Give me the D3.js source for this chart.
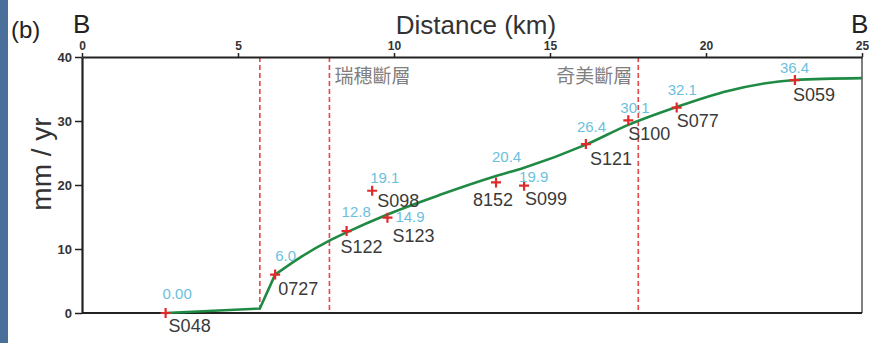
<!DOCTYPE html>
<html>
<head>
<meta charset="utf-8">
<script src="https://cdn.jsdelivr.net/npm/d3@7"></script>
<style>
  html, body { margin: 0; padding: 0; background: #fff; }
  svg { display: block; font-family: Arial, "Liberation Sans", sans-serif; }
</style>
</head>
<body>
<svg id="chart" width="869" height="343"></svg>
<script>
// GPS stations along profile B–B'
const stations   = ["S048", "0727", "S122", "S098", "S123", "8152", "S099", "S121", "S100", "S077", "S059"];
const stationKm  = [2.68, 6.19, 8.48, 9.3, 9.79, 13.27, 14.17, 16.15, 17.51, 19.06, 22.85];
const stationVel = [0.00, 6.0, 12.8, 19.1, 14.9, 20.4, 19.9, 26.4, 30.1, 32.1, 36.4];
const velLabels  = ["0.00", "6.0", "12.8", "19.1", "14.9", "20.4", "19.9", "26.4", "30.1", "32.1", "36.4"];

// Model velocity profile: straight segments west of the fault zone, smooth curve east of it
const modelKmWest  = [2.68, 5.7, 6.19];
const modelVelWest = [0.0, 0.7, 6.0];
const modelKmEast  = [6.19, 7.0, 7.93, 8.48, 9.79, 11.5, 13.27, 14.17, 16.15, 17.51, 19.06, 20.7, 22.85, 25];
const modelVelEast = [6.0, 8.7, 11.3, 12.6, 15.4, 18.5, 21.4, 22.7, 26.3, 29.4, 32.2, 34.7, 36.4, 36.7];

// Fault traces
const faultKm = [5.7, 7.93, 17.83];
const faultNames = ["瑞穗斷層", "奇美斷層"];

// Axis ticks
const xTicks = [0, 5, 10, 15, 20, 25];
const yTicks = [0, 10, 20, 30, 40];

// Label placement (pixel offsets from each marker)
const labelPos = {
  "S048": { v: [-3, -14], n: [3, 19] },
  "0727": { v: [0, -14],  n: [3, 20] },
  "S122": { v: [-5, -14], n: [-6, 22] },
  "S098": { v: [-2, -8],  n: [5, 16] },
  "S123": { v: [8, 4],    n: [5, 24] },
  "8152": { v: [-4, -20], n: [-23, 24] },
  "S099": { v: [-5, -4],  n: [1, 19] },
  "S121": { v: [-9, -12], n: [4, 21] },
  "S100": { v: [-8, -7],  n: [0, 20] },
  "S077": { v: [-9, -13], n: [0, 19] },
  "S059": { v: [-15, -7], n: [-2, 21] }
};

const svg = d3.select("#chart");

// slide strip on the left edge
svg.append("rect").attr("x", 0).attr("y", 0).attr("width", 8).attr("height", 343).attr("fill", "#4a6f9b");

const x = d3.scaleLinear().domain([0, 25]).range([82, 862]);
const y = d3.scaleLinear().domain([0, 40]).range([313, 57]);

// frame: right side lighter
svg.append("line").attr("x1", x(25)).attr("x2", x(25)).attr("y1", y(40)).attr("y2", y(0))
  .attr("stroke", "#555").attr("stroke-width", 1.5);
svg.append("line").attr("x1", x(0)).attr("x2", x(25)).attr("y1", y(0)).attr("y2", y(0))
  .attr("stroke", "#222").attr("stroke-width", 2.2);

// fault lines
svg.append("g").selectAll("line").data(faultKm).join("line")
  .attr("x1", d => x(d)).attr("x2", d => x(d))
  .attr("y1", y(40)).attr("y2", y(0))
  .attr("stroke", "#e0484a").attr("stroke-width", 1.6)
  .attr("stroke-dasharray", "5,3");

svg.append("text").attr("x", x(faultKm[1]) + 5).attr("y", 83)
  .attr("font-family", "'Noto Sans CJK TC', 'Noto Sans CJK SC', sans-serif")
  .attr("font-size", 19).attr("fill", "#808080").text(faultNames[0]);
svg.append("text").attr("x", x(faultKm[2]) - 6).attr("y", 83).attr("text-anchor", "end")
  .attr("font-family", "'Noto Sans CJK TC', 'Noto Sans CJK SC', sans-serif")
  .attr("font-size", 19).attr("fill", "#808080").text(faultNames[1]);

// top axis
const topAxis = svg.append("g").attr("transform", `translate(0,${y(40)})`)
  .call(d3.axisTop(x).tickValues(xTicks).tickSize(4).tickSizeOuter(0));
topAxis.select(".domain").attr("stroke", "#222").attr("stroke-width", 2.2);
topAxis.selectAll(".tick line").attr("stroke", "#222").attr("stroke-width", 1.5);
topAxis.selectAll(".tick text").attr("font-size", 12).attr("font-weight", "bold")
  .attr("fill", "#333").attr("y", -7).attr("font-family", "Arial, sans-serif");

// left axis
const leftAxis = svg.append("g").attr("transform", `translate(${x(0)},0)`)
  .call(d3.axisLeft(y).tickValues(yTicks).tickSize(7).tickSizeOuter(0));
leftAxis.select(".domain").attr("stroke", "#222").attr("stroke-width", 2.2);
leftAxis.selectAll(".tick line").attr("stroke", "#222").attr("stroke-width", 1.5);
leftAxis.selectAll(".tick text").attr("font-size", 13).attr("font-weight", "bold")
  .attr("fill", "#333").attr("x", -10).attr("font-family", "Arial, sans-serif");

// titles
svg.append("text").attr("x", 476).attr("y", 34).attr("text-anchor", "middle")
  .attr("font-size", 26).attr("fill", "#333").text("Distance (km)");
svg.append("text").attr("x", 73).attr("y", 33).attr("font-size", 26).attr("fill", "#222").text("B");
svg.append("text").attr("x", 851).attr("y", 33).attr("font-size", 26).attr("fill", "#222").text("B");
svg.append("text").attr("x", 11).attr("y", 38).attr("font-size", 24).attr("fill", "#222").text("(b)");
svg.append("text").attr("transform", "translate(51,164) rotate(-90)").attr("text-anchor", "middle")
  .attr("font-size", 28).attr("fill", "#333").text("mm / yr");

// model curve
const west = modelKmWest.map((d, i) => [d, modelVelWest[i]]);
const east = modelKmEast.map((d, i) => [d, modelVelEast[i]]);
const curveStyle = p => p.attr("fill", "none").attr("stroke", "#1f8a44")
  .attr("stroke-width", 2.6).attr("stroke-linejoin", "round");
svg.append("path").datum(west).call(curveStyle)
  .attr("d", d3.line().x(d => x(d[0])).y(d => y(d[1])));
svg.append("path").datum(east).call(curveStyle)
  .attr("d", d3.line().x(d => x(d[0])).y(d => y(d[1])).curve(d3.curveMonotoneX));

// stations
const st = stations.map((s, i) => ({ name: s, km: stationKm[i], v: stationVel[i], label: velLabels[i] }));
const g = svg.append("g");
g.selectAll("path.m").data(st).join("path").attr("class", "m")
  .attr("d", d => {
    const px = x(d.km), py = y(d.v);
    return `M${px - 5},${py}H${px + 5}M${px},${py - 5}V${py + 5}`;
  })
  .attr("stroke", "#e02a2a").attr("stroke-width", 2.2).attr("fill", "none");

g.selectAll("text.v").data(st).join("text").attr("class", "v")
  .attr("x", d => x(d.km) + labelPos[d.name].v[0])
  .attr("y", d => y(d.v) + labelPos[d.name].v[1])
  .attr("font-size", 15).attr("fill", "#6cbfdc").text(d => d.label);

g.selectAll("text.n").data(st).join("text").attr("class", "n")
  .attr("x", d => x(d.km) + labelPos[d.name].n[0])
  .attr("y", d => y(d.v) + labelPos[d.name].n[1])
  .attr("font-size", 18).attr("fill", "#3a3a3a").text(d => d.name);
</script>
</body>
</html>
